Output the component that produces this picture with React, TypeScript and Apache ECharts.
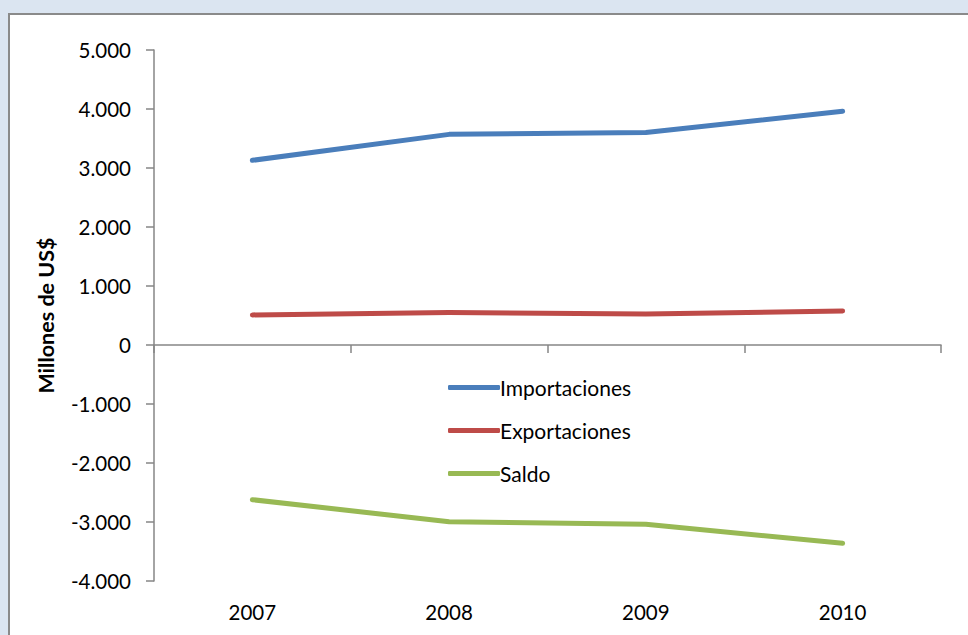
import React, { useEffect, useRef } from "react";
import * as echarts from "echarts";

const years = ["2007", "2008", "2009", "2010"];
const importaciones = [3130, 3570, 3600, 3960];
const exportaciones = [510, 550, 525, 576];
const saldo = [-2622, -2995, -3040, -3360];
const yMin = -4000;
const yMax = 5000;
const yStep = 1000;

const fmt = (v: number) => {
  const s = Math.abs(v).toString().replace(/\B(?=(\d{3})+(?!\d))/g, ".");
  return (v < 0 ? "-" : "") + s;
};

const FONT = "Lato, 'Open Sans', sans-serif";

export default function App() {
  const ref = useRef<HTMLDivElement>(null);
  useEffect(() => {
    if (!ref.current) return;
    const chart = echarts.init(ref.current, undefined, { renderer: "svg" });
    const axisColor = "#868686";
    chart.setOption({
      animation: false,
      backgroundColor: "#dbe5f1",
      graphic: [
        {
          type: "rect",
          shape: { x: 9, y: 14, width: 1000, height: 700 },
          style: { fill: "#ffffff", stroke: "#8a8a8a", lineWidth: 2 },
          z: -10,
          silent: true,
        },
      ],
      grid: { left: 154, top: 50, right: 27, bottom: 54 },
      legend: {
        orient: "vertical",
        left: 443,
        top: 372,
        itemWidth: 52,
        itemHeight: 5,
        itemGap: 22,
        icon: "roundRect",
        textStyle: { fontFamily: FONT, fontSize: 21, color: "#000", padding: [0, 0, 0, -5] },
        data: ["Importaciones", "Exportaciones", "Saldo"],
      },
      xAxis: [
        {
          type: "category",
          data: years,
          position: "bottom",
          boundaryGap: true,
          axisLine: { show: false, onZero: false },
          axisTick: { show: false },
          axisLabel: { fontFamily: FONT, fontSize: 20.5, color: "#000", margin: 20 },
        },
        {
          type: "category",
          data: years,
          position: "bottom",
          boundaryGap: true,
          axisLine: { show: true, onZero: true, lineStyle: { color: axisColor, width: 1.5 } },
          axisTick: { show: true, length: 8, lineStyle: { color: axisColor, width: 1.5 } },
          axisLabel: { show: false },
        },
      ],
      yAxis: {
        type: "value",
        min: yMin,
        max: yMax,
        interval: yStep,
        name: "Millones de US$",
        nameLocation: "middle",
        nameGap: 97,
        nameTextStyle: { fontFamily: FONT, fontSize: 21.5, fontWeight: "bold", color: "#000" },
        splitLine: { show: false },
        axisLine: { show: true, lineStyle: { color: axisColor, width: 1.5 } },
        axisTick: { show: true, length: 8, lineStyle: { color: axisColor, width: 1.5 } },
        axisLabel: { fontFamily: FONT, fontSize: 20.5, color: "#000", margin: 23, formatter: fmt },
      },
      series: [
        {
          name: "Importaciones",
          type: "line",
          data: importaciones,
          symbol: "none",
          color: "#4a7ebb",
          lineStyle: { width: 5, cap: "round", join: "round" },
        },
        {
          name: "Exportaciones",
          type: "line",
          data: exportaciones,
          symbol: "none",
          color: "#be4b48",
          lineStyle: { width: 5, cap: "round", join: "round" },
        },
        {
          name: "Saldo",
          type: "line",
          data: saldo,
          symbol: "none",
          color: "#98b954",
          lineStyle: { width: 5, cap: "round", join: "round" },
        },
      ],
    });
    return () => chart.dispose();
  }, []);
  return (
    <div
      ref={ref}
      style={{ position: "fixed", left: 0, top: 0, width: 968, height: 635 }}
    />
  );
}
